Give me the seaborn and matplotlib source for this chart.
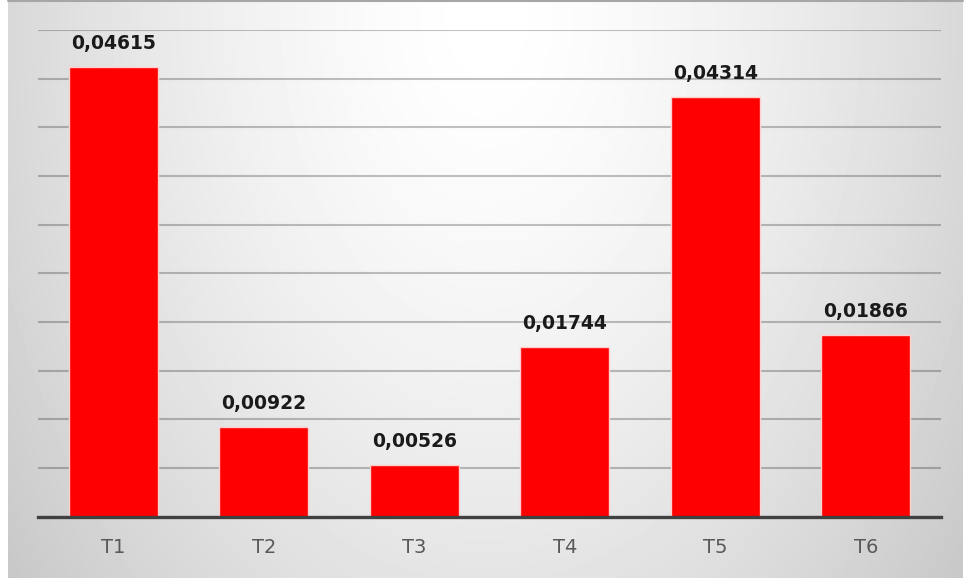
import numpy as np
import pandas as pd
import matplotlib
matplotlib.use("Agg")
import matplotlib.pyplot as plt
import seaborn as sns

categories = ["T1", "T2", "T3", "T4", "T5", "T6"]
values = [0.04615, 0.00922, 0.00526, 0.01744, 0.04314, 0.01866]

sns.set_theme(style="white")
plt.rcParams["font.family"] = ["DejaVu Sans"]

W, H = 967, 580
fig = plt.figure(figsize=(W / 100, H / 100), dpi=100)
fig.patch.set_facecolor("white")

# Soft radial grey background behind the chart
bg = fig.add_axes([8 / W, 2 / H, 955 / W, 576 / H], zorder=-5)
yy, xx = np.mgrid[0:576, 0:955]
d = np.sqrt(((xx - 478) / 430.0) ** 2 + ((yy - 15) / 650.0) ** 2)
shade = np.clip(1 - 0.13 * d ** 1.5, 0, 1)
bg.imshow(shade, cmap="gray", vmin=0, vmax=1, aspect="auto",
          interpolation="bilinear")
bg.set_axis_off()

# Thin frame line at the top edge of the chart box
fig.add_artist(plt.Line2D([8 / W, 963 / W], [1 - 1 / H, 1 - 1 / H],
                          transform=fig.transFigure, color="#a6a6a6", lw=1.5))

ax = fig.add_axes([38 / W, (H - 516.7) / H, (941 - 38) / W, (516.7 - 30) / H])
ax.set_facecolor("none")

df = pd.DataFrame({"cat": categories, "val": values})
sns.barplot(data=df, x="cat", y="val", color="#ff0000", saturation=1,
            width=0.59, edgecolor="#ffcfcf", linewidth=1.0, ax=ax, zorder=3)

ax.set_ylim(0, 0.05)
ax.set_yticks(np.arange(0, 0.0501, 0.005))
ax.set_yticklabels([])
ax.yaxis.grid(True, color="black", alpha=0.24, linewidth=1.5, zorder=0)
ax.set_axisbelow(True)
ax.tick_params(axis="both", length=0)
ax.tick_params(axis="x", pad=15, labelsize=14, labelcolor="#595959")
ax.set_xlabel("")
ax.set_ylabel("")
for side in ["top", "left", "right"]:
    ax.spines[side].set_visible(False)
ax.spines["bottom"].set_color("#404040")
ax.spines["bottom"].set_linewidth(2.4)
ax.spines["bottom"].set_zorder(4)

for i, v in enumerate(values):
    ax.annotate(f"{v:.5f}".replace(".", ","), xy=(i, v), xytext=(0, 13),
                textcoords="offset points", ha="center", va="baseline",
                fontsize=13.5, fontweight="bold", color="#1a1a1a")

fig.savefig("out.png", dpi=100)
